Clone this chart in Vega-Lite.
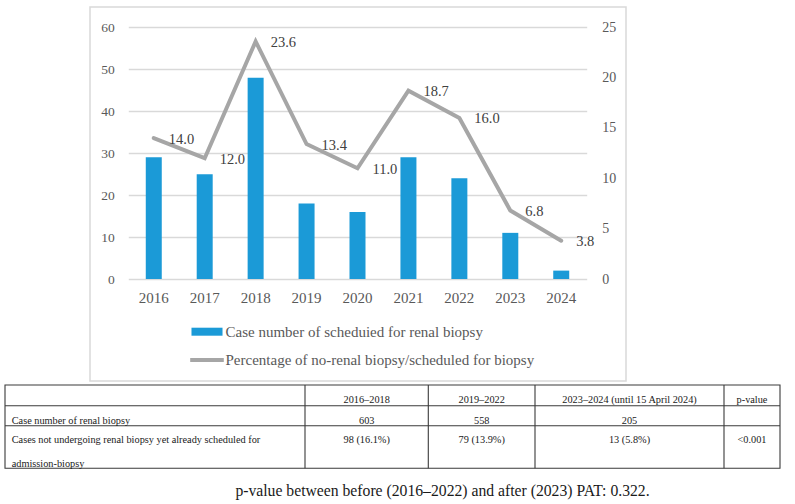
{
  "$schema": "https://vega.github.io/schema/vega-lite/v6.json",
  "width": 536,
  "height": 374,
  "autosize": {"type": "none"},
  "padding": {"left": 90, "top": 7, "right": 169, "bottom": 123},
  "background": "white",
  "view": {"stroke": "#d9d9d9", "strokeWidth": 1.5},
  "config": {"font": "Liberation Serif"},
  "title": {
    "text": "p-value between before (2016–2022) and after (2023) PAT: 0.322.",
    "orient": "bottom",
    "anchor": "middle",
    "frame": "bounds",
    "offset": 15,
    "dx": 50,
    "font": "Liberation Serif",
    "fontSize": 15.7,
    "fontWeight": "normal",
    "color": "#1a1a1a"
  },
  "datasets": {
    "years": [
      {"year": "2016", "cases": 29, "pct": 14.0},
      {"year": "2017", "cases": 25, "pct": 12.0},
      {"year": "2018", "cases": 48, "pct": 23.6},
      {"year": "2019", "cases": 18, "pct": 13.4},
      {"year": "2020", "cases": 16, "pct": 11.0},
      {"year": "2021", "cases": 29, "pct": 18.7},
      {"year": "2022", "cases": 24, "pct": 16.0},
      {"year": "2023", "cases": 11, "pct": 6.8},
      {"year": "2024", "cases": 2, "pct": 3.8}
    ],
    "cells": [
      {"row": 0, "col": 0, "text": ""},
      {"row": 0, "col": 1, "text": "2016–2018"},
      {"row": 0, "col": 2, "text": "2019–2022"},
      {"row": 0, "col": 3, "text": "2023–2024 (until 15 April 2024)"},
      {"row": 0, "col": 4, "text": "p-value"},
      {"row": 1, "col": 0, "text": "Case number of renal biopsy"},
      {"row": 1, "col": 1, "text": "603"},
      {"row": 1, "col": 2, "text": "558"},
      {"row": 1, "col": 3, "text": "205"},
      {"row": 1, "col": 4, "text": ""},
      {"row": 2, "col": 0, "text": ["Cases not undergoing renal biopsy yet already scheduled for", "admission-biopsy"]},
      {"row": 2, "col": 1, "text": "98 (16.1%)"},
      {"row": 2, "col": 2, "text": "79 (13.9%)"},
      {"row": 2, "col": 3, "text": "13 (5.8%)"},
      {"row": 2, "col": 4, "text": "<0.001"}
    ]
  },
  "layer": [
    {
      "data": {"name": "years"},
      "layer": [
        {
          "mark": {"type": "bar"},
          "encoding": {
            "x": {
              "field": "year",
              "type": "ordinal",
              "scale": {"type": "band", "range": [38.3, 496.7], "paddingInner": 0.686, "paddingOuter": 0.343},
              "axis": {
                "orient": "bottom",
                "offset": -102,
                "title": null,
                "domain": false,
                "ticks": false,
                "grid": false,
                "labelAngle": 0,
                "labelPadding": 11,
                "labelFont": "Liberation Serif",
                "labelFontSize": 15,
                "labelColor": "#595959"
              }
            },
            "y": {
              "field": "cases",
              "type": "quantitative",
              "scale": {"domain": [0, 60], "range": [272, 20.3], "nice": false},
              "axis": {
                "orient": "left",
                "offset": -38.3,
                "title": null,
                "values": [0, 10, 20, 30, 40, 50, 60],
                "domain": false,
                "ticks": false,
                "grid": true,
                "gridColor": "#d9d9d9",
                "gridWidth": 1.3,
                "labelPadding": 14,
                "labelFont": "Liberation Serif",
                "labelFontSize": 13.5,
                "labelColor": "#595959"
              }
            },
            "color": {
              "datum": "Case number of scheduied for renal biopsy",
              "scale": {
                "domain": ["Case number of scheduied for renal biopsy", "Percentage of no-renal biopsy/scheduled for biopsy"],
                "range": ["#1b9ad7", "#a6a6a6"]
              },
              "legend": {
                "orient": "none",
                "legendX": 109,
                "legendY": 316.7,
                "direction": "vertical",
                "title": null,
                "padding": 0,
                "symbolSize": 256,
                "labelOffset": 10.5,
                "rowPadding": 12.3,
                "labelFont": "Liberation Serif",
                "labelFontSize": 15,
                "labelColor": "#595959",
                "labelLimit": 500,
                "encode": {
                  "symbols": {
                    "update": {
                      "shape": {"signal": "datum.value === 'Case number of scheduied for renal biopsy' ? 'M-1.94,-0.5H1.94V0.5H-1.94Z' : 'M-2.1,-0.25H2.1V0.25H-2.1Z'"},
                      "fill": {"signal": "datum.value === 'Case number of scheduied for renal biopsy' ? '#1b9ad7' : '#a6a6a6'"},
                      "stroke": {"value": "transparent"},
                      "strokeWidth": {"value": 0},
                      "opacity": {"value": 1}
                    }
                  }
                }
              }
            }
          }
        },
        {
          "mark": {"type": "line", "strokeWidth": 4, "strokeCap": "round", "strokeJoin": "miter"},
          "encoding": {
            "x": {"field": "year", "type": "ordinal"},
            "y": {
              "field": "pct",
              "type": "quantitative",
              "scale": {"domain": [0, 25], "range": [272, 20.3], "nice": false},
              "axis": {
                "orient": "right",
                "offset": -39.3,
                "title": null,
                "values": [0, 5, 10, 15, 20, 25],
                "domain": false,
                "ticks": false,
                "grid": false,
                "labelPadding": 15,
                "labelFont": "Liberation Serif",
                "labelFontSize": 14,
                "labelColor": "#595959"
              }
            },
            "color": {"datum": "Percentage of no-renal biopsy/scheduled for biopsy"}
          }
        },
        {
          "mark": {"type": "text", "align": "left", "baseline": "middle", "dx": 15, "dy": 1.5, "font": "Liberation Serif", "fontSize": 14.5, "color": "#404040"},
          "encoding": {
            "x": {"field": "year", "type": "ordinal"},
            "y": {
              "field": "pct",
              "type": "quantitative",
              "scale": {"domain": [0, 25], "range": [272, 20.3], "nice": false},
              "axis": null
            },
            "text": {"field": "pct", "type": "quantitative", "format": ".1f"}
          }
        }
      ],
      "resolve": {"scale": {"y": "independent"}}
    },
    {
      "data": {"name": "cells"},
      "layer": [
        {
          "layer": [
            {
              "transform": [{"filter": "datum.row === 0 && datum.col === 0"}],
              "mark": {"type": "rect", "fill": "transparent", "stroke": "#3a3a3a", "strokeWidth": 1.1},
              "encoding": {
                "x": {"datum": 0, "type": "quantitative", "scale": {"domain": [0, 1, 2, 3, 4, 5], "range": [-85, 215, 338.3, 445, 634, 690], "nice": false, "zero": false}, "axis": null},
                "x2": {"datum": 5},
                "y": {"datum": 0, "type": "quantitative", "scale": {"domain": [0, 1, 2, 3], "range": [378, 398.7, 418.7, 461.3], "nice": false, "zero": false}, "axis": null},
                "y2": {"datum": 3}
              }
            },
            {
              "transform": [{"filter": "datum.row === 0 && datum.col > 0"}],
              "mark": {"type": "rule", "color": "#3a3a3a", "strokeWidth": 1.1},
              "encoding": {
                "x": {"field": "col", "type": "quantitative"},
                "y": {"datum": 0, "type": "quantitative"},
                "y2": {"datum": 3}
              }
            },
            {
              "transform": [{"filter": "datum.col === 0 && datum.row > 0"}],
              "mark": {"type": "rule", "color": "#3a3a3a", "strokeWidth": 1.1},
              "encoding": {
                "y": {"field": "row", "type": "quantitative"},
                "x": {"datum": 0, "type": "quantitative"},
                "x2": {"datum": 5}
              }
            }
          ]
        },
        {
          "layer": [
            {
              "transform": [{"filter": "datum.col === 0"}],
              "mark": {"type": "text", "align": "left", "baseline": "alphabetic", "lineHeight": 23.3, "font": "Liberation Serif", "fontSize": 10.3, "color": "#1a1a1a"},
              "encoding": {
                "x": {"field": "col", "type": "quantitative", "scale": {"domain": [0, 1, 2, 3, 4], "range": [-78.3, 276.7, 391.7, 539.5, 662], "nice": false, "zero": false}, "axis": null},
                "y": {"field": "row", "type": "quantitative", "scale": {"domain": [0, 1, 2], "range": [396.3, 416.9, 436.3], "nice": false, "zero": false}, "axis": null},
                "text": {"field": "text"}
              }
            },
            {
              "transform": [{"filter": "datum.col > 0"}],
              "mark": {"type": "text", "align": "center", "baseline": "alphabetic", "font": "Liberation Serif", "fontSize": 10.3, "color": "#1a1a1a"},
              "encoding": {
                "x": {"field": "col", "type": "quantitative"},
                "y": {"field": "row", "type": "quantitative"},
                "text": {"field": "text"}
              }
            }
          ]
        }
      ],
      "resolve": {"scale": {"x": "independent", "y": "independent"}}
    }
  ],
  "resolve": {"scale": {"x": "independent", "y": "independent"}}
}
